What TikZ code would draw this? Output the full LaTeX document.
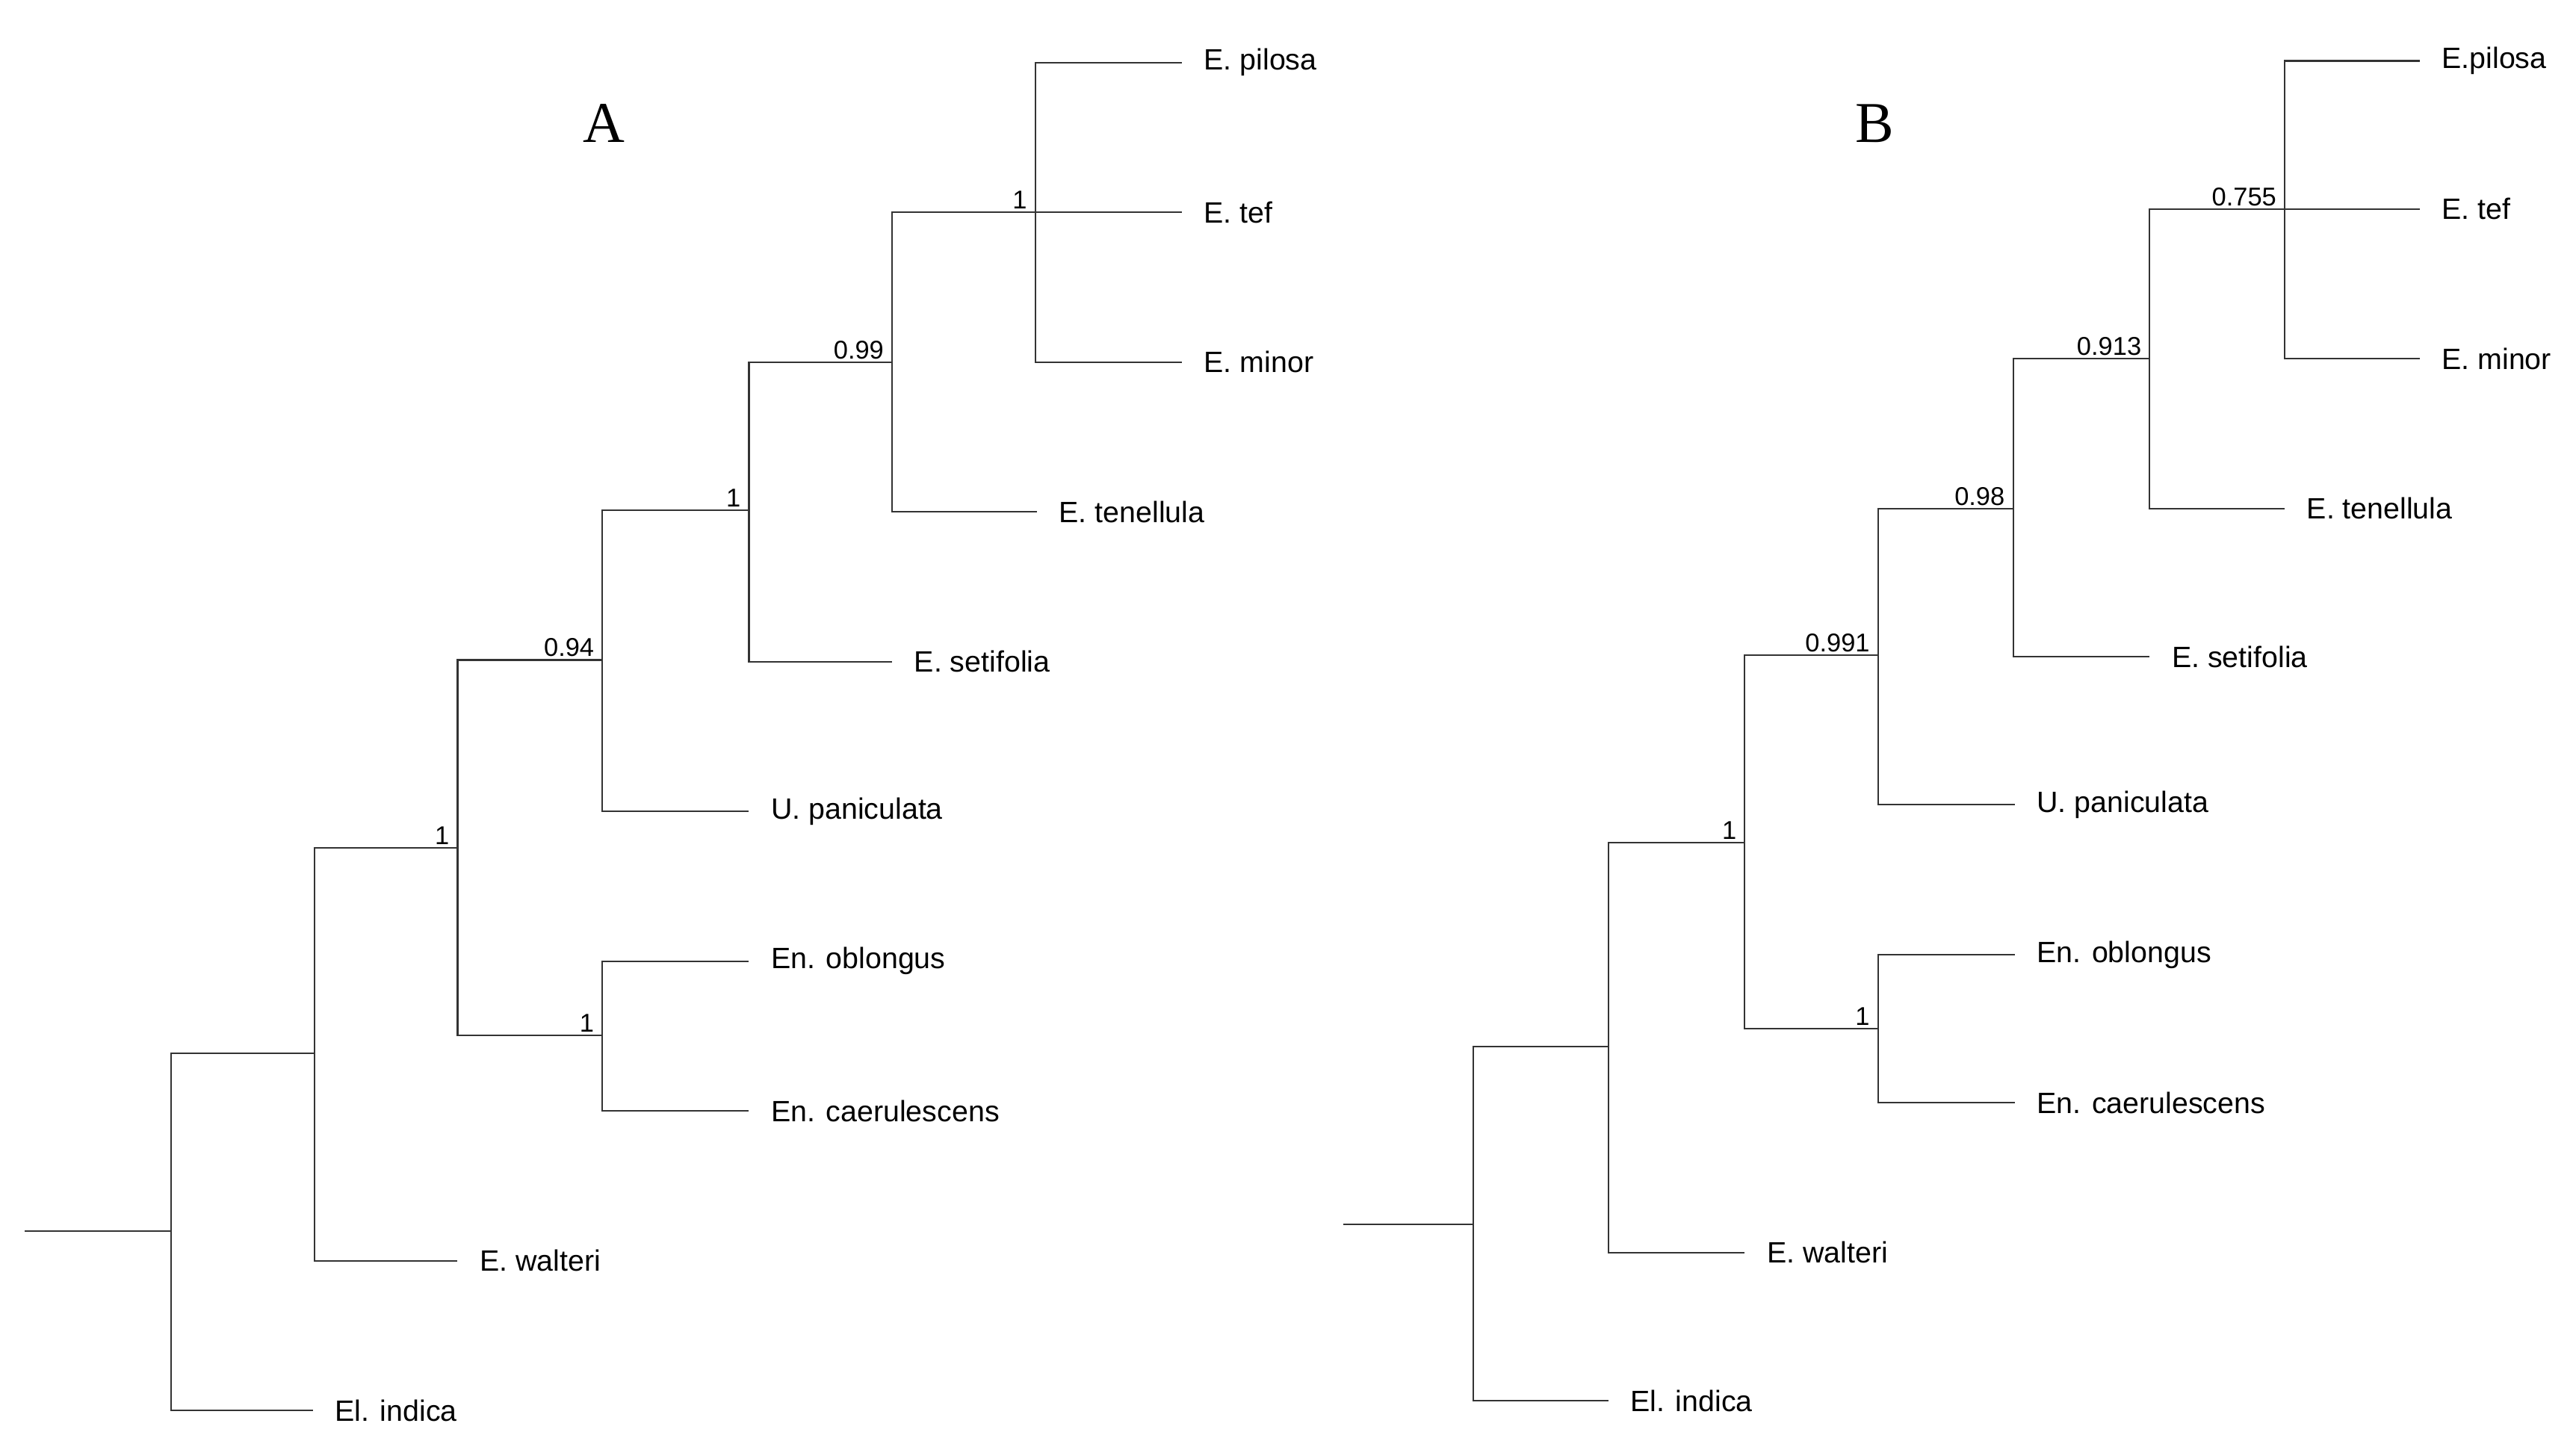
\documentclass[tikz,border=0pt]{standalone}
\usepackage{fontspec}
\setmainfont{Liberation Serif}
\newfontfamily\leafsans{Liberation Sans}
\usetikzlibrary{positioning}

\begin{document}
\begin{tikzpicture}[
    x=0.022032cm, y=-0.022032cm,
    branch/.style={draw, line width=0.6pt, black!80},
    leaf/.style={anchor=west, inner xsep=0.29cm, inner ysep=0, font=\leafsans\fontsize{11.2}{13}\selectfont},
    supp/.style={anchor=south east, inner xsep=3pt, inner ysep=1pt, font=\leafsans\fontsize{9.8}{11}\selectfont},
    panel/.style={font=\fontsize{22}{26}\selectfont}
]
\useasboundingbox (0,0) rectangle (1565,873.7);

% Tree A: internal nodes
\coordinate (ra) at (15,748);
\coordinate (a1) at (104,748);
\coordinate (a2) at (191,640);
\coordinate (a3) at (278,515);
\coordinate (a4) at (366,629);
\coordinate (a5) at (366,401);
\coordinate (a6) at (455,310);
\coordinate (a7) at (542,220);
\coordinate (a8) at (629,129);

% Tree A: leaves
\node[leaf] (apilosa) at (718,38) {E. pilosa};
\node[leaf] (atef) at (718,129) {E. tef};
\node[leaf] (aminor) at (718,220) {E. minor};
\node[leaf] (atenellula) at (630,311) {E. tenellula};
\node[leaf] (asetifolia) at (542,402) {E. setifolia};
\node[leaf] (apanic) at (455,493) {U. paniculata};
\node[leaf] (aoblong) at (455,584) {En. oblongus};
\node[leaf] (acaerul) at (455,675) {En. caerulescens};
\node[leaf] (awalteri) at (278,766) {E. walteri};
\node[leaf] (aindica) at (190,857) {El. indica};

% Tree A: branches
\draw[branch] (ra) -- (a1);
\draw[branch] (a1) |- (aindica.west);
\draw[branch] (a1) |- (a2);
\draw[branch] (a2) |- (awalteri.west);
\draw[branch] (a2) |- (a3);
\draw[branch] (a3) |- (a4);
\draw[branch] (a3) |- (a5);
\draw[branch] (a4) |- (aoblong.west);
\draw[branch] (a4) |- (acaerul.west);
\draw[branch] (a5) |- (apanic.west);
\draw[branch] (a5) |- (a6);
\draw[branch] (a6) |- (asetifolia.west);
\draw[branch] (a6) |- (a7);
\draw[branch] (a7) |- (atenellula.west);
\draw[branch] (a7) |- (a8);
\draw[branch] (a8) |- (apilosa.west);
\draw[branch] (a8) -- (atef.west);
\draw[branch] (a8) |- (aminor.west);

% Tree A: support values
\node[supp] (sa3) at (a3) {1};
\node[supp] (sa4) at (a4) {1};
\node[supp] (sa5) at (a5) {0.94};
\node[supp] (sa6) at (a6) {1};
\node[supp] (sa7) at (a7) {0.99};
\node[supp] (sa8) at (a8) {1};

% Tree B: internal nodes
\coordinate (rb) at (816,744);
\coordinate (b1) at (895,744);
\coordinate (b2) at (977,636);
\coordinate (b3) at (1060,512);
\coordinate (b4) at (1141,625);
\coordinate (b5) at (1141,398);
\coordinate (b6) at (1223,309);
\coordinate (b7) at (1306,218);
\coordinate (b8) at (1388,127);

% Tree B: leaves
\node[leaf] (bpilosa) at (1470,37) {E.pilosa};
\node[leaf] (btef) at (1470,127) {E. tef};
\node[leaf] (bminor) at (1470,218) {E. minor};
\node[leaf] (btenellula) at (1388,309) {E. tenellula};
\node[leaf] (bsetifolia) at (1306,399) {E. setifolia};
\node[leaf] (bpanic) at (1224,489) {U. paniculata};
\node[leaf] (boblong) at (1224,580) {En. oblongus};
\node[leaf] (bcaerul) at (1224,670) {En. caerulescens};
\node[leaf] (bwalteri) at (1060,761) {E. walteri};
\node[leaf] (bindica) at (977,851) {El. indica};

% Tree B: branches
\draw[branch] (rb) -- (b1);
\draw[branch] (b1) |- (bindica.west);
\draw[branch] (b1) |- (b2);
\draw[branch] (b2) |- (bwalteri.west);
\draw[branch] (b2) |- (b3);
\draw[branch] (b3) |- (b4);
\draw[branch] (b3) |- (b5);
\draw[branch] (b4) |- (boblong.west);
\draw[branch] (b4) |- (bcaerul.west);
\draw[branch] (b5) |- (bpanic.west);
\draw[branch] (b5) |- (b6);
\draw[branch] (b6) |- (bsetifolia.west);
\draw[branch] (b6) |- (b7);
\draw[branch] (b7) |- (btenellula.west);
\draw[branch] (b7) |- (b8);
\draw[branch] (b8) |- (bpilosa.west);
\draw[branch] (b8) -- (btef.west);
\draw[branch] (b8) |- (bminor.west);

% Tree B: support values
\node[supp] (sb3) at (b3) {1};
\node[supp] (sb4) at (b4) {1};
\node[supp] (sb5) at (b5) {0.991};
\node[supp] (sb6) at (b6) {0.98};
\node[supp] (sb7) at (b7) {0.913};
\node[supp] (sb8) at (b8) {0.755};

% Panel letters
\node[panel] (pa) at (367,75) {A};
\node[panel] (pb) at (1139,75) {B};
\end{tikzpicture}
\end{document}
